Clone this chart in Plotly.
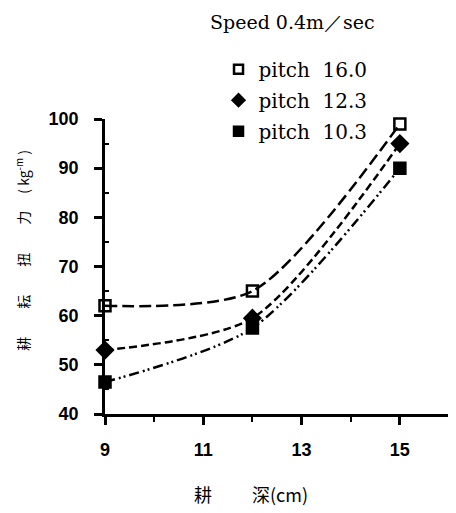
import plotly.graph_objects as go

depth = [9, 12, 15]
pitch_16_0 = [62, 65, 99]
pitch_12_3 = [53, 59.5, 95]
pitch_10_3 = [46.5, 57.5, 90]

names = ["pitch\u00a0\u00a016.0", "pitch\u00a0\u00a012.3", "pitch\u00a0\u00a010.3"]
series = [pitch_16_0, pitch_12_3, pitch_10_3]
symbols = ["square-open", "diamond", "square"]
dashes = ["12px,5px", "8px,4px", "10px,4px,2px,3px,2px,4px"]
msizes = [11, 12, 11]

x_ticks = [9, 11, 13, 15]
y_ticks = [40, 50, 60, 70, 80, 90, 100]

fig = go.Figure()
for i, (nm, ys) in enumerate(zip(names, series)):
    fig.add_trace(go.Scatter(
        x=depth, y=ys, mode="lines+markers", name=nm, showlegend=False,
        line=dict(color="black", width=2.5, dash=dashes[i], shape="spline", smoothing=0.75),
        marker=dict(symbol=symbols[i], size=msizes[i], color="black",
                    line=dict(color="black", width=2.5)),
        cliponaxis=False,
    ))
for i, nm in enumerate(names):
    fig.add_trace(go.Scatter(
        x=[None], y=[None], mode="markers", name=nm, legendgroup=nm,
        marker=dict(symbol=symbols[i], size=9, color="black",
                    line=dict(color="black", width=2.5)),
    ))

fig.update_layout(
    width=448, height=505,
    margin=dict(l=97, r=7, t=111, b=99),
    paper_bgcolor="white", plot_bgcolor="white",
    showlegend=True,
    legend=dict(x=0.33, xanchor="left", y=1.235, yanchor="top",
                font=dict(family="DejaVu Serif", size=20, color="black"),
                bgcolor="rgba(0,0,0,0)", traceorder="grouped", tracegroupgap=2,
                itemwidth=30),
    xaxis=dict(range=[9, 16], tickvals=x_ticks, ticktext=[str(v) for v in x_ticks],
               showgrid=False, zeroline=False, showline=True, linecolor="black", linewidth=2.5,
               ticks="outside", ticklen=8, tickwidth=2.5, tickcolor="black",
               ticklabelstandoff=10,
               tickfont=dict(family="Liberation Sans", size=18, color="black", weight="bold"),
               minor=dict(tickvals=[10, 12, 14], ticks="outside", ticklen=5, tickwidth=2, tickcolor="black")),
    yaxis=dict(range=[40, 100], tickvals=y_ticks, ticktext=[str(v) for v in y_ticks],
               showgrid=False, zeroline=False, showline=True, linecolor="black", linewidth=2.5,
               ticks="outside", ticklen=8, tickwidth=2.5, tickcolor="black",
               ticklabelstandoff=12,
               tickfont=dict(family="Liberation Sans", size=18, color="black", weight="bold"),
               minor=dict(tickvals=[45, 55, 65, 75, 85, 95], ticks="inside", ticklen=4, tickwidth=2, tickcolor="black")),
    annotations=[
        dict(text="Speed\u00a00.4m／sec", xref="paper", yref="paper", x=0.545, y=1, yshift=97,
             xanchor="center", yanchor="middle",
             showarrow=False, font=dict(family="DejaVu Serif", size=19, color="black")),
        dict(text="耕　　耘　　扭　　力　 ( kg<sup>-m</sup> )", xref="paper", yref="paper", x=0, xshift=-82,
             y=0.553, textangle=-90, xanchor="center", yanchor="middle", showarrow=False,
             font=dict(family="Noto Sans CJK SC", size=14, color="black")),
        dict(text="耕　　 深(cm)", xref="paper", yref="paper", x=0.424, y=0, yshift=-80,
             xanchor="center", yanchor="middle",
             showarrow=False, font=dict(family="Noto Sans CJK SC", size=18, color="black")),
    ],
)

fig.write_html("out.html")
